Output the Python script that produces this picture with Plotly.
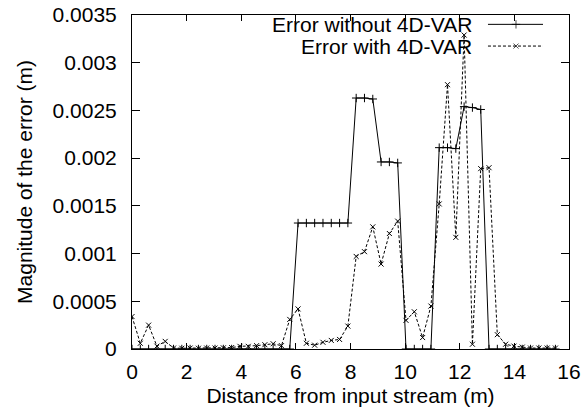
import plotly.graph_objects as go

# distance from input stream (m)
distance = [0, 0.304, 0.608, 0.912, 1.216, 1.52, 1.824, 2.128, 2.432, 2.736,
            3.04, 3.344, 3.648, 3.952, 4.256, 4.56, 4.864, 5.168, 5.472, 5.776,
            6.08, 6.384, 6.688, 6.992, 7.296, 7.6, 7.904, 8.208, 8.512, 8.816,
            9.12, 9.424, 9.728, 10.032, 10.336, 10.64, 10.944, 11.248, 11.552, 11.856,
            12.16, 12.464, 12.768, 13.072, 13.376, 13.68, 13.984, 14.288, 14.592, 14.896,
            15.2, 15.504]

err_without = [0, 0, 0, 0, 0, 0, 0, 0, 0, 0,
               0, 0, 0, 0, 0, 0, 0, 0, 0, 0,
               0.00132, 0.00132, 0.00132, 0.00132, 0.00132, 0.00132, 0.00132,
               0.00263, 0.00263, 0.00262,
               0.00196, 0.00196, 0.00195,
               0, 0, 0, 0,
               0.00211, 0.00211, 0.00210,
               0.00254, 0.00253, 0.00251,
               0, 0, 0, 0, 0, 0, 0, 0, 0]

err_with = [0.00034, 0.00006, 0.00025, 0.00003, 0.00008, 0.00001, 0.000008, 0.00001, 0.000008, 0.00001,
            0.00001, 0.000012, 0.000015, 0.000028, 0.000028, 0.000035, 0.000045, 0.000055, 0.000035, 0.00031,
            0.00042, 0.00006, 0.00004, 0.00007, 0.00009, 0.0001, 0.00024, 0.00097, 0.00102, 0.00128,
            0.00089, 0.00121, 0.00134, 0.0003, 0.00039, 0.00012, 0.00045, 0.00152, 0.00277, 0.00117,
            0.00329, 0.00005, 0.00189, 0.0019, 0.00015, 0.00005, 0.00003, 0.00002, 0.00001, 0.00001,
            0.00001, 0.00001]

series_names = ["Error without 4D-VAR", "Error with 4D-VAR"]
x_ticks = [0, 2, 4, 6, 8, 10, 12, 14, 16]
y_ticks = [0, 0.0005, 0.001, 0.0015, 0.002, 0.0025, 0.003, 0.0035]
y_tick_labels = ["0", "0.0005", "0.001", "0.0015", "0.002", "0.0025", "0.003", "0.0035"]

FONT = "Liberation Sans, Arial, Helvetica, sans-serif"
FS = 21
MS = 6

fig = go.Figure()
fig.add_trace(go.Scatter(
    x=distance, y=err_without, mode="lines+markers", name=series_names[0],
    line=dict(color="black", width=1),
    marker=dict(symbol="cross-thin", size=MS, line=dict(color="black", width=1)),
    showlegend=False))
fig.add_trace(go.Scatter(
    x=distance, y=err_with, mode="lines+markers", name=series_names[1],
    line=dict(color="black", width=1, dash="3px,2px"),
    marker=dict(symbol="x-thin", size=MS - 1, line=dict(color="black", width=1)),
    showlegend=False))

# gnuplot-style legend (text then sample), drawn on an overlay paper-like axis
leg_rows = [0.972, 0.907]
leg_x0, leg_xm, leg_x1 = 0.8146, 0.8787, 0.9405
styles = [dict(sym="cross-thin", dash="solid", size=MS), dict(sym="x-thin", dash="3px,2px", size=MS - 1)]
for name, yy, st in zip(series_names, leg_rows, styles):
    fig.add_trace(go.Scatter(
        x=[leg_x0, leg_xm, leg_x1], y=[yy, yy, yy], xaxis="x2", yaxis="y2",
        mode="lines+markers", showlegend=False, hoverinfo="skip",
        line=dict(color="black", width=1, dash=st["dash"]),
        marker=dict(symbol=st["sym"], size=[0, st["size"], 0], line=dict(color="black", width=1))))
    fig.add_annotation(x=0.7826, y=yy, xref="paper", yref="paper", text=name,
                       showarrow=False, xanchor="right", yanchor="middle",
                       font=dict(family=FONT, size=FS, color="black"))

fig.update_layout(
    width=581, height=415,
    margin=dict(l=132, r=12, t=15, b=66, autoexpand=False),
    paper_bgcolor="white", plot_bgcolor="white",
    font=dict(family=FONT, size=FS, color="black"),
    xaxis=dict(range=[0, 16], tickvals=x_ticks, ticks="inside", ticklen=6, tickwidth=1,
               tickcolor="black", showline=True, linecolor="black", linewidth=1,
               mirror="allticks", showgrid=False, zeroline=False, automargin=False,
               ticklabelstandoff=4,
               title=dict(text="Distance from input stream (m)", standoff=6,
                          font=dict(family=FONT, size=FS))),
    yaxis=dict(range=[0, 0.0035], tickvals=y_ticks, ticktext=y_tick_labels, ticks="inside",
               ticklen=8, tickwidth=1, tickcolor="black", showline=True, linecolor="black",
               linewidth=1, mirror="allticks", showgrid=False, zeroline=False, automargin=False,
               ticklabelstandoff=10,
               title=dict(text="Magnitude of the error (m)", standoff=14,
                          font=dict(family=FONT, size=FS))),
    xaxis2=dict(overlaying="x", range=[0, 1], visible=False, fixedrange=True, automargin=False),
    yaxis2=dict(overlaying="y", range=[0, 1], visible=False, fixedrange=True, automargin=False),
)

fig.write_html("out.html", config={"displayModeBar": False},
               post_script="document.body.style.margin='0';")
